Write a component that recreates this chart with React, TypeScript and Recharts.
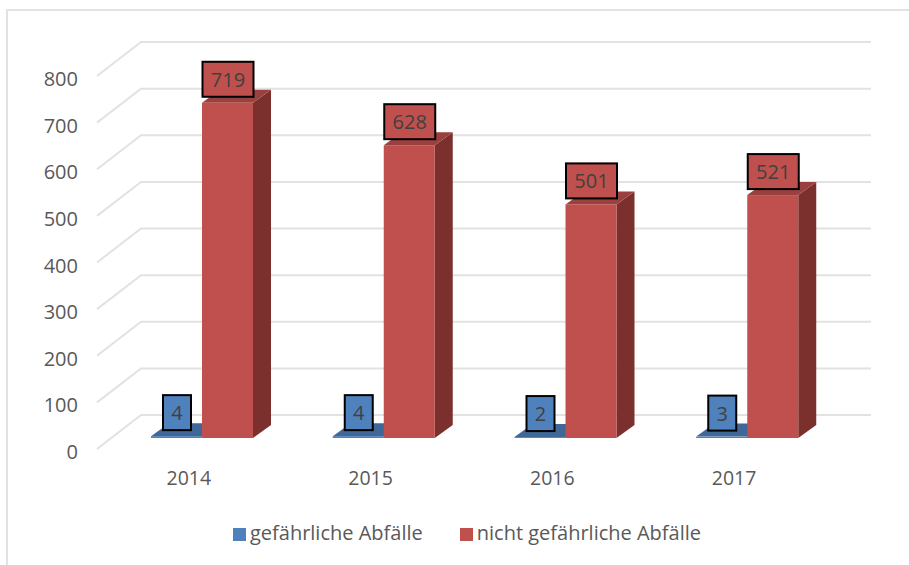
import { BarChart, Bar, XAxis, YAxis, CartesianGrid, Legend, LabelList } from 'recharts';

const YEARS = ['2014', '2015', '2016', '2017'];
const GEFAEHRLICH = [4, 4, 2, 3];
const NICHT_GEFAEHRLICH = [719, 628, 501, 521];
const Y_TICKS = [0, 100, 200, 300, 400, 500, 600, 700, 800];

const chartData = YEARS.map((year, i) => ({
  year,
  gefaehrlich: GEFAEHRLICH[i],
  nicht: NICHT_GEFAEHRLICH[i],
}));

const FONT = '"Open Sans", sans-serif';
const TEXT = '#595959';

// 3D look: the bars stand part way into the floor
const SHIFT_X = 13;
const SHIFT_Y = -11;
const DEPTH_X = 18;
const DEPTH_Y = -13;

function bar3d(front: string, top: string, side: string) {
  return (props: any) => {
    const x = props.x + SHIFT_X;
    const y = props.y + SHIFT_Y;
    const w = props.width;
    const h = props.height;
    return (
      <g>
        <polygon
          points={`${x + w},${y} ${x + w + DEPTH_X},${y + DEPTH_Y} ${x + w + DEPTH_X},${y + h + DEPTH_Y} ${x + w},${y + h}`}
          fill={side}
        />
        <polygon
          points={`${x},${y} ${x + DEPTH_X},${y + DEPTH_Y} ${x + w + DEPTH_X},${y + DEPTH_Y} ${x + w},${y}`}
          fill={top}
        />
        <rect x={x} y={y} width={w} height={h} fill={front} />
      </g>
    );
  };
}

function valueBox(fill: string) {
  return (props: any) => {
    const { x, y, width, value } = props;
    const boxW = String(value).length > 1 ? 51 : 28;
    const cx = x + SHIFT_X + width / 2 + 0.5;
    const bottom = y + SHIFT_Y - 6;
    return (
      <g>
        <rect x={cx - boxW / 2} y={bottom - 35} width={boxW} height={35} fill={fill} stroke="#000" strokeWidth={2} />
        <text x={cx} y={bottom - 10} textAnchor="middle" fontFamily={FONT} fontSize={20} fill="#404040">
          {value}
        </text>
      </g>
    );
  };
}

// back wall line with the slanted piece on the side wall
function gridLine(props: any) {
  const { x1, x2, y1 } = props;
  return (
    <path
      key={props.key}
      d={`M${x1 - 1},${y1} L${x1 + 43},${y1 - 34} L${x2 + 46},${y1 - 34}`}
      fill="none"
      stroke="#e2e2e2"
      strokeWidth={2}
    />
  );
}

export default function App() {
  return (
    <div style={{ position: 'absolute', left: 0, top: 0, width: 909, height: 565, background: '#fff', overflow: 'hidden' }}>
      <div style={{ position: 'absolute', left: 6, top: 9, width: 903, height: 556, borderLeft: '2px solid #e2e2e2', borderTop: '2px solid #e2e2e2' }} />
      <div style={{ position: 'absolute', left: 0, top: 0 }}>
        <BarChart
          width={909}
          height={565}
          data={chartData}
          barSize={51}
          barGap={0}
          margin={{ top: 76, right: 84, left: 0, bottom: 86 }}
        >
          <CartesianGrid vertical={false} horizontal={gridLine} />
          <XAxis
            dataKey="year"
            height={30}
            axisLine={false}
            tickLine={false}
            tick={{ fill: TEXT, fontSize: 19.5, fontFamily: FONT }}
            dy={14}
          />
          <YAxis
            width={98}
            domain={[0, 800]}
            ticks={Y_TICKS}
            interval={0}
            axisLine={false}
            tickLine={false}
            tick={{ fill: TEXT, fontSize: 20, fontFamily: FONT }}
            dx={-12}
            dy={3}
          />
          <Legend
            verticalAlign="middle"
            align="center"
            iconType="square"
            iconSize={13}
            wrapperStyle={{ top: 519, left: 31, width: 909, fontFamily: FONT, fontSize: 20 }}
            formatter={(value: string) => <span style={{ color: TEXT, marginRight: 27 }}>{value}</span>}
          />
          <Bar
            dataKey="gefaehrlich"
            name="gefährliche Abfälle"
            fill="#4f81bd"
            isAnimationActive={false}
            shape={bar3d('#4f81bd', '#3f6797', '#325174')}
          >
            <LabelList dataKey="gefaehrlich" content={valueBox('#4f81bd')} />
          </Bar>
          <Bar
            dataKey="nicht"
            name="nicht gefährliche Abfälle"
            fill="#c0504d"
            isAnimationActive={false}
            shape={bar3d('#c0504d', '#9a403e', '#7b302e')}
          >
            <LabelList dataKey="nicht" content={valueBox('#c0504d')} />
          </Bar>
        </BarChart>
      </div>
    </div>
  );
}
